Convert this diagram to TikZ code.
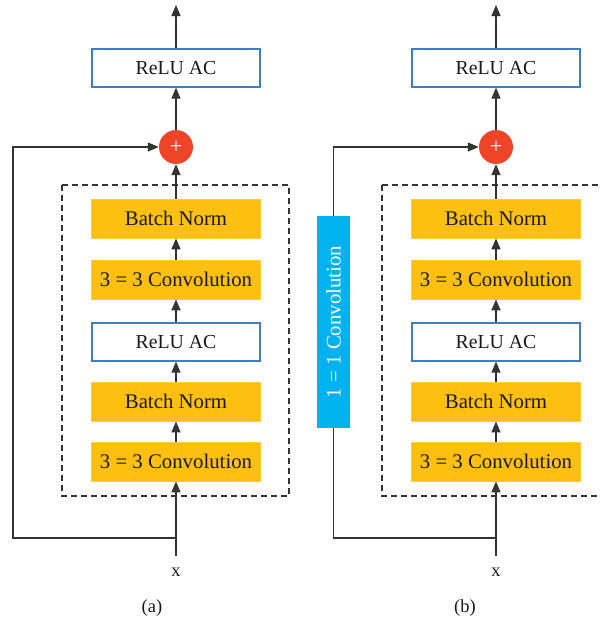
\documentclass[tikz,border=0pt]{standalone}
\usepackage{fontspec}
\setmainfont{Liberation Serif}
\usetikzlibrary{arrows.meta}
\definecolor{boxyel}{HTML}{FDC010}
\definecolor{boxyelb}{HTML}{FFCB3A}
\definecolor{reluline}{HTML}{3E7FC1}
\definecolor{plusred}{HTML}{EE4428}
\definecolor{convblue}{HTML}{00B2EE}
\definecolor{lin}{HTML}{333333}
\tikzset{
  yelbox/.style={rectangle, fill=boxyel, draw=boxyelb, line width=0.8pt, minimum width=169pt, minimum height=39pt, inner sep=0pt, font=\fontsize{20.8}{23}\selectfont, text=black!90},
  relubox/.style={rectangle, fill=white, draw=reluline, line width=1.2pt, minimum width=168pt, minimum height=38pt, inner sep=0pt, font=\fontsize{19.8}{22}\selectfont, text=black!90},
  plusnode/.style={circle, fill=plusred, minimum size=34pt, inner sep=0pt, text=white, font=\fontsize{22}{22}\selectfont},
  bluebox/.style={rectangle, fill=convblue, minimum width=33pt, minimum height=212pt, inner sep=0pt},
  conn/.style={draw=lin, line width=1.3pt, -{Triangle[length=11pt,width=9pt]}},
  plain/.style={draw=lin, line width=1.3pt},
  dashbox/.style={draw=lin, line width=1.1pt, dash pattern=on 6pt off 4pt},
  lbl/.style={font=\fontsize{18.5}{20}\selectfont, text=black!90}
}
\begin{document}
\begin{tikzpicture}[x=1pt,y=-1pt]
\useasboundingbox (0,0) rectangle (601,624);
\clip (0,0) rectangle (601,624);
% ---------- (a) ----------
\draw[dashbox] (62,185) rectangle (289,496);
\node[relubox] (aout) at (176,68) {ReLU AC};
\node[plusnode] (aplus) at (176,147) {+};
\node[yelbox] (abn1) at (176,218.5) {Batch Norm};
\node[yelbox] (acv1) at (176,279.5) {3 = 3 Convolution};
\node[relubox] (arelu) at (176,342) {ReLU AC};
\node[yelbox] (abn2) at (176,401.5) {Batch Norm};
\node[yelbox] (acv2) at (176,461.5) {3 = 3 Convolution};
\coordinate (atop) at (176,5);
\coordinate (ain) at (176,556);
\coordinate (abr) at (176,538);
\coordinate (ac1) at (13,538);
\coordinate (ac2) at (13,147);
\node[lbl] (ax) at (176,572) {x};
\node[lbl] (acap) at (152,608) {(a)};
\draw[conn] (aout.north) -- (atop);
\draw[conn] (aplus.north) -- (aout.south);
\draw[conn] (abn1.north) -- (aplus.south);
\draw[conn] (acv1.north) -- (abn1.south);
\draw[conn] (arelu.north) -- (acv1.south);
\draw[conn] (abn2.north) -- (arelu.south);
\draw[conn] (acv2.north) -- (abn2.south);
\draw[conn] (ain) -- (acv2.south);
\draw[conn] (abr) -- (ac1) -- (ac2) -- (aplus.west);
% ---------- (b) ----------
\draw[dashbox] (382,185) rectangle (609,496);
\node[relubox] (bout) at (496,68) {ReLU AC};
\node[plusnode] (bplus) at (496,147) {+};
\node[yelbox] (bbn1) at (496,218.5) {Batch Norm};
\node[yelbox] (bcv1) at (496,279.5) {3 = 3 Convolution};
\node[relubox] (brelu) at (496,342) {ReLU AC};
\node[yelbox] (bbn2) at (496,401.5) {Batch Norm};
\node[yelbox] (bcv2) at (496,461.5) {3 = 3 Convolution};
\node[bluebox] (bsc) at (333.5,322) {};
\node[rotate=90, text=white, font=\fontsize{20.8}{23}\selectfont] (bsct) at (bsc.center) {1 = 1 Convolution};
\coordinate (btop) at (496,5);
\coordinate (bin) at (496,556);
\coordinate (bbr) at (496,538);
\coordinate (bc1) at (333.5,538);
\coordinate (bc2) at (333.5,147);
\node[lbl] (bx) at (496,572) {x};
\node[lbl] (bcap) at (465,608) {(b)};
\draw[conn] (bout.north) -- (btop);
\draw[conn] (bplus.north) -- (bout.south);
\draw[conn] (bbn1.north) -- (bplus.south);
\draw[conn] (bcv1.north) -- (bbn1.south);
\draw[conn] (brelu.north) -- (bcv1.south);
\draw[conn] (bbn2.north) -- (brelu.south);
\draw[conn] (bcv2.north) -- (bbn2.south);
\draw[conn] (bin) -- (bcv2.south);
\draw[plain] (bbr) -- (bc1) -- (bsc.south);
\draw[conn] (bsc.north) -- (bc2) -- (bplus.west);
\end{tikzpicture}
\end{document}
